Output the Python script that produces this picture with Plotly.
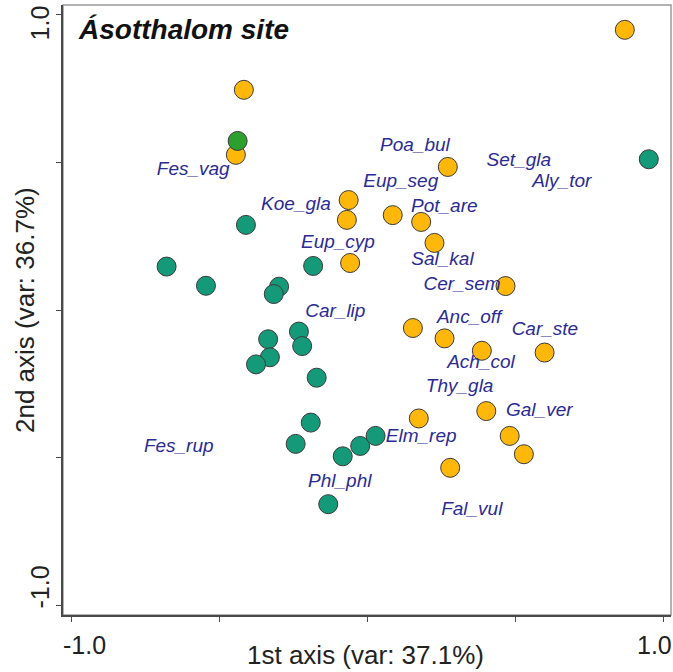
import plotly.graph_objects as go

# ---- data ----
orange_x = [0.868, -0.419, -0.446, 0.270, -0.065, -0.071, 0.084, 0.180, 0.225, -0.060,
            0.465, 0.152, 0.259, 0.385, 0.597, 0.172, 0.400, 0.479, 0.527, 0.278]
orange_y = [0.948, 0.745, 0.525, 0.484, 0.372, 0.305, 0.321, 0.298, 0.227, 0.159,
            0.081, -0.061, -0.096, -0.138, -0.144, -0.367, -0.342, -0.426, -0.488, -0.534]

teal_x = [0.949, -0.412, -0.680, -0.547, -0.300, -0.318, -0.185, -0.233, -0.337, -0.222,
          -0.331, -0.378, -0.173, -0.193, -0.244, -0.085, -0.026, 0.026, -0.134]
teal_y = [0.510, 0.288, 0.147, 0.082, 0.079, 0.054, 0.149, -0.073, -0.099, -0.122,
          -0.160, -0.184, -0.229, -0.381, -0.453, -0.495, -0.460, -0.426, -0.657]

green_x = [-0.440]
green_y = [0.572]

species = ["Fes_vag", "Koe_gla", "Eup_cyp", "Car_lip", "Poa_bul", "Set_gla", "Aly_tor",
           "Eup_seg", "Pot_are", "Sal_kal", "Cer_sem", "Anc_off", "Car_ste", "Ach_col",
           "Thy_gla", "Gal_ver", "Elm_rep", "Phl_phl", "Fal_vul", "Fes_rup"]
species_x = [-0.59, -0.243, -0.101, -0.11, 0.159, 0.510, 0.655, 0.111, 0.258, 0.252,
             0.318, 0.342, 0.598, 0.382, 0.310, 0.579, 0.180, -0.095, 0.351, -0.639]
species_y = [0.474, 0.353, 0.227, -0.006, 0.555, 0.504, 0.431, 0.431, 0.347, 0.167,
             0.084, -0.028, -0.068, -0.180, -0.262, -0.344, -0.432, -0.582, -0.677, -0.463]

tick_vals = [-1.0, -0.5, 0.0, 0.5, 1.0]
x_tick_labels = ["-1.0", "1.0"]
y_tick_labels = ["-1.0", "1.0"]

title_text = "Ásotthalom site"
x_title = "1st axis (var: 37.1%)"
y_title = "2nd axis (var: 36.7%)"

FONT = "Liberation Sans, Arial, sans-serif"
AX = "#4a4a4a"

fig = go.Figure()

marker_line = dict(color="#3a3a3a", width=1)
fig.add_trace(go.Scatter(x=teal_x, y=teal_y, mode="markers",
                         marker=dict(size=19, color="#149A79", line=marker_line),
                         showlegend=False, hoverinfo="skip"))
fig.add_trace(go.Scatter(x=orange_x, y=orange_y, mode="markers",
                         marker=dict(size=19, color="#FFB80A", line=marker_line),
                         showlegend=False, hoverinfo="skip"))
fig.add_trace(go.Scatter(x=green_x, y=green_y, mode="markers",
                         marker=dict(size=19, color="#2CA02C", line=marker_line),
                         showlegend=False, hoverinfo="skip"))
fig.add_trace(go.Scatter(x=species_x, y=species_y, mode="text", text=species,
                         textfont=dict(family=FONT, size=19, color="#2B2B95", style="italic"),
                         showlegend=False, hoverinfo="skip"))

# frame (top/right grey)
fig.add_shape(type="rect", xref="paper", yref="paper", x0=0, y0=0, x1=1, y1=1,
              line=dict(color="#9a9a9a", width=1.5), layer="below")

fig.update_xaxes(range=[-1.03, 1.024], tickvals=tick_vals,
                 ticktext=[""] * len(tick_vals), ticks="outside", ticklen=5,
                 tickcolor=AX, showline=True, linecolor=AX, linewidth=1.5,
                 showgrid=False, zeroline=False, automargin=False, fixedrange=True)
fig.update_yaxes(range=[-1.032, 1.032], tickvals=tick_vals,
                 ticktext=[""] * len(tick_vals), ticks="outside", ticklen=5,
                 tickcolor=AX, showline=True, linecolor=AX, linewidth=1.5,
                 showgrid=False, zeroline=False, automargin=False, fixedrange=True)

ann = []
TF = dict(family=FONT, size=25, color="#222")
# x tick labels at the ends
ann.append(dict(x=tick_vals[0], y=0, xref="x", yref="paper", text=x_tick_labels[0],
                xanchor="left", yanchor="top", xshift=-11, yshift=-14, showarrow=False, font=TF))
ann.append(dict(x=tick_vals[-1], y=0, xref="x", yref="paper", text=x_tick_labels[1],
                xanchor="right", yanchor="top", xshift=10, yshift=-14, showarrow=False, font=TF))
# y tick labels (rotated)
ann.append(dict(x=0, y=tick_vals[0], xref="paper", yref="y", text=y_tick_labels[0],
                textangle=-90, xanchor="center", yanchor="middle", xshift=-23, yshift=18,
                showarrow=False, font=TF))
ann.append(dict(x=0, y=tick_vals[-1], xref="paper", yref="y", text=y_tick_labels[1],
                textangle=-90, xanchor="center", yanchor="middle", xshift=-23, yshift=-9,
                showarrow=False, font=TF))
# axis titles
ann.append(dict(x=0.5, y=0, xref="paper", yref="paper", text=x_title,
                xanchor="center", yanchor="middle", yshift=-40, xshift=-2, showarrow=False,
                font=dict(family=FONT, size=26, color="#222")))
ann.append(dict(x=0, y=0.5, xref="paper", yref="paper", text=y_title, textangle=-90,
                xanchor="center", yanchor="middle", xshift=-38, showarrow=False,
                font=dict(family=FONT, size=26, color="#222")))
# panel title
ann.append(dict(x=0, y=1, xref="paper", yref="paper", text="<b><i>" + title_text + "</i></b>",
                xanchor="left", yanchor="middle", xshift=13, yshift=-24, showarrow=False,
                font=dict(family=FONT, size=28, color="#111")))

fig.update_layout(width=673, height=672,
                  margin=dict(l=63, r=2, t=5, b=57, pad=0),
                  paper_bgcolor="white", plot_bgcolor="white",
                  annotations=ann, showlegend=False)

fig.write_html("out.html", config={"displayModeBar": False},
               post_script="document.body.style.margin='0';document.body.style.padding='0';")
